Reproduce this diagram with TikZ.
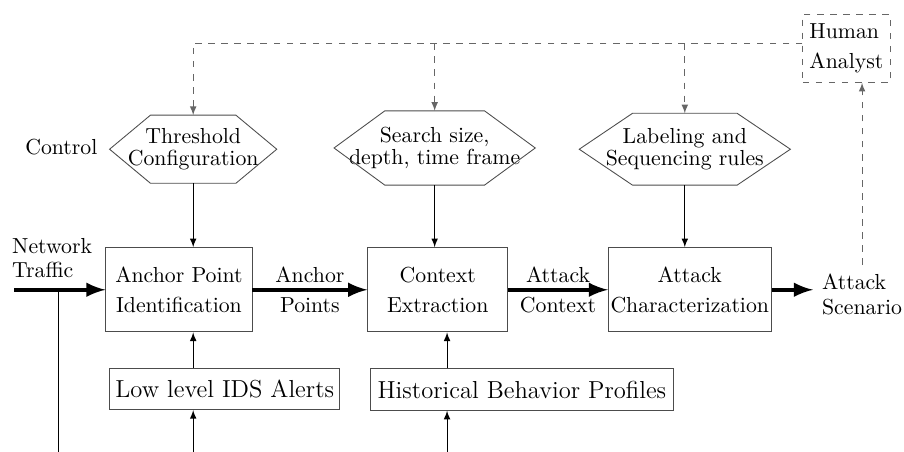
\documentclass[tikz,border=0pt]{standalone}

\tikzstyle{block}=[shape=rectangle,draw=black!70,inner xsep=1pt,minimum height=1.36cm,align=center,font=\fontsize{10}{14}\selectfont]
\tikzstyle{source}=[shape=rectangle,draw=black!70,inner sep=1pt,minimum height=0.67cm,font=\fontsize{11.3}{13}\selectfont]
\tikzstyle{control}=[shape=rectangle,inner sep=0pt,outer sep=0pt,align=center,font=\fontsize{10}{10.5}\selectfont]
\tikzstyle{hexline}=[draw=black!70]
\tikzstyle{plaintext}=[align=left,inner sep=0pt,font=\fontsize{10}{11}\selectfont]
\tikzstyle{mainedge}=[-latex,line width=2pt]
\tikzstyle{lightedge}=[-latex]
\tikzstyle{feedback}=[-latex,dashed,draw=black!60]

\begin{document}
\begin{tikzpicture}[]
\useasboundingbox (0,0) rectangle (14.6,-7.3);
% controls
\node[plaintext] (control) at (0.99,-2.37) {Control};
\node[control,minimum width=2.70cm,minimum height=1.10cm] (h1) at (3.12,-2.41) {Threshold\\Configuration};
\node[control,minimum width=3.25cm,minimum height=1.20cm] (h2) at (7.02,-2.39) {Search size,\\depth, time frame};
\node[control,minimum width=3.41cm,minimum height=1.16cm] (h3) at (11.06,-2.41) {Labeling and\\Sequencing rules};
\foreach \h/\e in {h1/0.66,h2/0.82,h3/0.86}
    \draw[hexline] (\h.west) -- ([xshift=\e cm]\h.north west) -- ([xshift=-\e cm]\h.north east)
        -- (\h.east) -- ([xshift=-\e cm]\h.south east) -- ([xshift=\e cm]\h.south west) -- cycle;
% main row
\coordinate (traffic_in) at (0.23,-4.68);
\node[plaintext,anchor=south west] (traffic) at (0.19,-4.49) {Network\\Traffic};
\node[block,minimum width=2.36cm] (b1) at (2.89,-4.68) {Anchor Point\\Identification};
\node[block,minimum width=2.26cm] (b2) at (7.07,-4.68) {Context\\Extraction};
\node[block,minimum width=2.63cm] (b3) at (11.14,-4.68) {Attack\\Characterization};
\node[plaintext,inner sep=4pt,anchor=north west,font=\fontsize{10}{11.5}\selectfont] (scenario) at (13.13,-4.28) {Attack\\Scenario};
\node[plaintext,inner sep=0pt,dashed,draw=black!60,minimum width=1.41cm,minimum height=1.10cm,font=\fontsize{10}{13.5}\selectfont] (analyst) at (13.67,-0.78) {Human\\Analyst};
% inputs
\node[source,minimum width=3.71cm] (low) at (3.63,-6.28) {Low level IDS Alerts};
\node[source,minimum width=4.88cm] (hist) at (8.43,-6.29) {Historical Behavior Profiles};
\coordinate (traffic_out) at (0.95,-7.3);
\coordinate (ids_in) at (3.12,-7.3);
\coordinate (hist_in) at (7.22,-7.3);
% connectors
\draw[mainedge] (traffic_in) -- (traffic_in -| b1.west);
\draw (traffic_in -| traffic_out) -- (traffic_out);
\draw[mainedge] (b1) -- node[plaintext,align=center,font=\fontsize{10}{13.5}\selectfont] {Anchor\\Points} (b2);
\draw[mainedge] (b2) -- node[plaintext,align=center,font=\fontsize{10}{14}\selectfont] {Attack\\Context} (b3);
\draw[mainedge] (b3.east) -- (b3.east -| scenario.west);
\draw[lightedge] (h1.south) -- (h1.south |- b1.north);
\draw[lightedge] (h2.south) -- (h2.south |- b2.north);
\draw[lightedge] (h3.south) -- (h3.south |- b3.north);
\draw[lightedge] (ids_in) -- (ids_in |- low.south);
\draw[lightedge] (ids_in |- low.north) -- (ids_in |- b1.south);
\draw[lightedge] (hist_in) -- (hist_in |- hist.south);
\draw[lightedge] (hist_in |- hist.north) -- (hist_in |- b2.south);
% feedback
\coordinate (fb) at ([yshift=0.08cm]analyst.west);
\draw[feedback] (fb) -| (h1.north);
\draw[feedback] (h2.north |- fb) -- (h2.north);
\draw[feedback] (h3.north |- fb) -- (h3.north);
\draw[feedback] (scenario.north) -- (scenario.north |- analyst.south);
\end{tikzpicture}
\end{document}
